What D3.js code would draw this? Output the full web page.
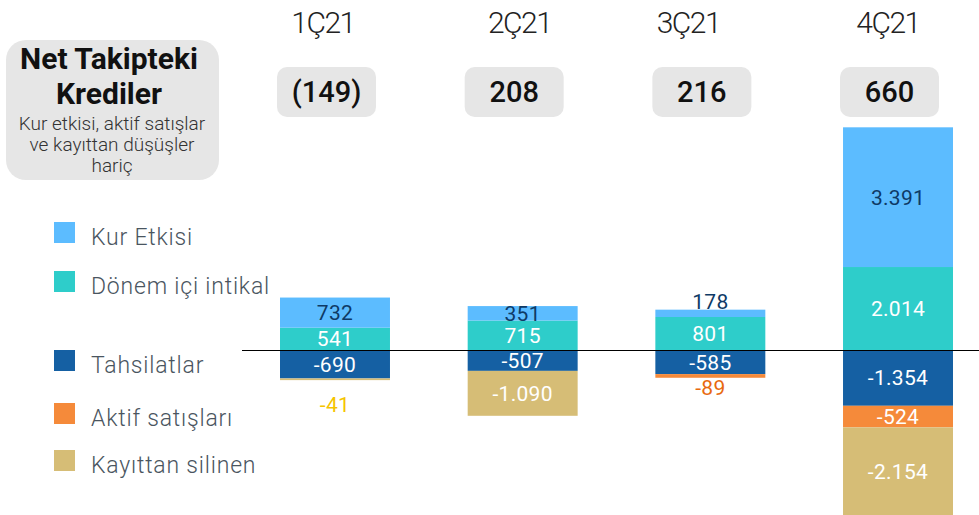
<!DOCTYPE html>
<html>
<head>
<meta charset="utf-8">
<script src="https://cdn.jsdelivr.net/npm/d3@7/dist/d3.min.js"></script>
<style>
  html, body { margin: 0; padding: 0; background: #fff; }
  svg { display: block; }
</style>
</head>
<body>
<div id="chart"></div>
<script>
(function () {
  'use strict';

  var categories = ['1Ç21', '2Ç21', '3Ç21', '4Ç21'];
  var totals = ['(149)', '208', '216', '660'];
  var seriesNames = ['Kur Etkisi', 'Dönem içi intikal', 'Tahsilatlar', 'Aktif satışları', 'Kayıttan silinen'];
  var kurEtkisi = [732, 351, 178, 3391];
  var donemIci = [541, 715, 801, 2014];
  var tahsilatlar = [-690, -507, -585, -1354];
  var aktifSatis = [0, 0, -89, -524];
  var kayittan = [-41, -1090, 0, -2154];

  var COLORS = ['#5cbcff', '#2ecdca', '#1560a3', '#f58a3a', '#d6bd76'];
  var INNER_TEXT = ['#0e3a66', '#fff', '#fff', '#fff', '#fff'];
  var OUTER_TEXT = ['#0e3a66', '#2ecdca', '#1560a3', '#e8690f', '#f5c400'];
  var FONT = 'Roboto, sans-serif';

  var W = 979, H = 515;
  var svg = d3.select('#chart').append('svg').attr('width', W).attr('height', H);

  var fmt = d3.formatLocale({ decimal: ',', thousands: '.', grouping: [3], currency: ['', ''], minus: '-' }).format(',d');

  var x = d3.scaleBand().domain(categories).range([280, 953]).paddingInner(0.414).paddingOuter(0);
  var y = d3.scaleLinear().domain([-4000, 5500]).range([514.8, 123.4]);

  var values = [kurEtkisi, donemIci, tahsilatlar, aktifSatis, kayittan];
  // stacking order outward from zero: Dönem içi first, then Kur etkisi on top
  var stackOrder = [1, 0, 2, 3, 4];

  var segs = [];
  categories.forEach(function (c, i) {
    var pos = 0, neg = 0;
    stackOrder.forEach(function (s) {
      var v = values[s][i];
      if (!v) return;
      var y0, y1;
      if (v > 0) { y0 = pos; y1 = pos + v; pos = y1; }
      else { y0 = neg; y1 = neg + v; neg = y1; }
      segs.push({ cat: c, s: s, v: v, y0: y0, y1: y1 });
    });
  });

  // title box
  var tb = svg.append('g');
  tb.append('rect').attr('x', 6).attr('y', 40).attr('width', 213).attr('height', 140)
    .attr('rx', 20).attr('fill', '#e6e6e6');
  var tt = tb.append('text').attr('text-anchor', 'middle').attr('fill', '#111').style('font-family', FONT);
  tt.append('tspan').attr('x', 109).attr('y', 69).style('font-size', '30px').style('font-weight', 700).text('Net Takipteki');
  tt.append('tspan').attr('x', 109).attr('y', 104).style('font-size', '30px').style('font-weight', 700).text('Krediler');
  ['Kur etkisi, aktif satışlar', 've kayıttan düşüşler', 'hariç'].forEach(function (t, i) {
    tb.append('text').attr('x', 112).attr('y', 130 + i * 21).attr('text-anchor', 'middle')
      .attr('fill', '#333').style('font-family', FONT).style('font-size', '19px')
      .style('font-weight', 300).text(t);
  });

  // legend
  var legY = [222, 271, 350, 403, 450];
  var leg = svg.append('g').selectAll('g').data(seriesNames).enter().append('g')
    .attr('transform', function (d, i) { return 'translate(54,' + legY[i] + ')'; });
  leg.append('rect').attr('width', 21).attr('height', 21).attr('fill', function (d, i) { return COLORS[i]; });
  leg.append('text').attr('x', 37).attr('y', 23).attr('fill', '#4a5560')
    .style('font-family', FONT).style('font-size', '23px').style('font-weight', 300)
    .style('letter-spacing', '0.8px')
    .text(function (d) { return d; });

  // category headers and total boxes
  var headShift = [-3, 6, -13, -1];
  svg.append('g').selectAll('text').data(categories).enter().append('text')
    .attr('x', function (d, i) { return x(d) + 46 + headShift[i]; }).attr('y', 33).attr('text-anchor', 'middle')
    .attr('fill', '#222').style('font-family', FONT).style('font-size', '30px')
    .style('font-weight', 300).style('letter-spacing', '-1.5px').text(function (d) { return d; });

  var boxes = svg.append('g').selectAll('g').data(categories).enter().append('g')
    .attr('transform', function (d) { return 'translate(' + (x(d) - 3) + ',67)'; });
  boxes.append('rect').attr('width', 99).attr('height', 50).attr('rx', 10).attr('fill', '#e6e6e6');
  boxes.append('text').attr('x', 49.5).attr('y', 35).attr('text-anchor', 'middle').attr('fill', '#111')
    .style('font-family', FONT).style('font-size', '29px').style('font-weight', 500)
    .text(function (d, i) { return totals[i]; });

  // bars
  svg.append('g').selectAll('rect').data(segs).enter().append('rect')
    .attr('x', function (d) { return x(d.cat); })
    .attr('width', x.bandwidth())
    .attr('y', function (d) { return y(Math.max(d.y0, d.y1)); })
    .attr('height', function (d) { return Math.abs(y(d.y0) - y(d.y1)); })
    .attr('fill', function (d) { return COLORS[d.s]; });

  // zero line
  var zy = Math.round(y(0)) + 0.5;
  svg.append('line').attr('x1', 242).attr('x2', W).attr('y1', zy).attr('y2', zy)
    .attr('stroke', '#000').attr('stroke-width', 1);

  // labels: very small segments get their label outside the bar
  var nudge = { '1Ç21|4': 14 };
  svg.append('g').selectAll('text').data(segs).enter().append('text')
    .attr('x', function (d) { return x(d.cat) + x.bandwidth() / 2; })
    .attr('y', function (d) {
      var h = Math.abs(y(d.y0) - y(d.y1));
      var top = y(Math.max(d.y0, d.y1)), bot = y(Math.min(d.y0, d.y1));
      if (h >= 12) return (top + bot) / 2;
      var extra = nudge[d.cat + '|' + d.s] || 0;
      return d.v > 0 ? top - 8 : bot + 10 + extra;
    })
    .attr('dy', '0.36em').attr('text-anchor', 'middle')
    .attr('fill', function (d) {
      var h = Math.abs(y(d.y0) - y(d.y1));
      return h >= 12 ? INNER_TEXT[d.s] : OUTER_TEXT[d.s];
    })
    .style('font-family', FONT).style('font-size', '21px').style('font-weight', 400)
    .style('letter-spacing', '0.3px')
    .text(function (d) { return fmt(d.v); });
})();
</script>
</body>
</html>
